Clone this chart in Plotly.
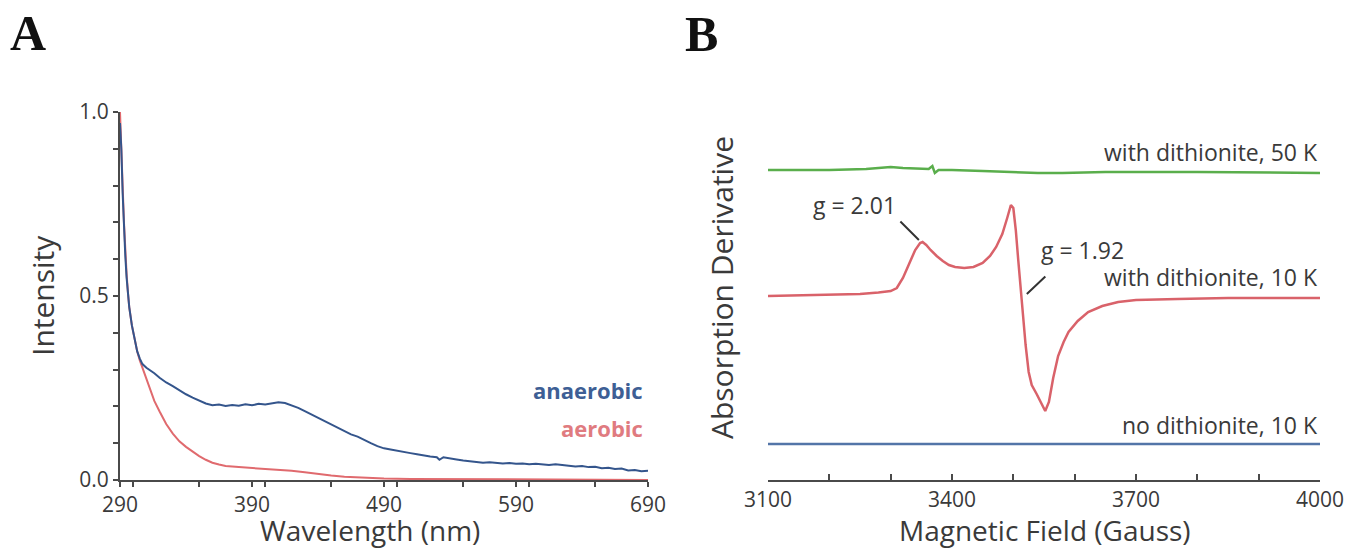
import plotly.graph_objects as go

# ---------------- Panel A data ----------------
wl_anaerobic = [290, 291, 292, 293, 294, 295, 296, 297, 299, 301, 303, 305, 307, 310, 313, 316, 320, 325,
                330, 335, 340, 345, 350, 355, 360, 365, 370, 375, 380, 385, 390, 395, 400, 405, 410, 415,
                420, 425, 430, 435, 440, 445, 450, 455, 460, 465, 470, 475, 480, 485, 490, 495, 500, 505,
                510, 515, 520, 525, 530, 532, 535, 540, 545, 550, 555, 560, 565, 570, 575, 580, 585, 590,
                595, 600, 605, 610, 615, 620, 625, 630, 635, 640, 645, 650, 655, 660, 665, 670, 675, 680,
                685, 690]
int_anaerobic = [0.97, 0.90, 0.78, 0.68, 0.61, 0.55, 0.51, 0.47, 0.42, 0.38, 0.35, 0.33, 0.315, 0.305, 0.298,
                 0.29, 0.278, 0.265, 0.255, 0.243, 0.233, 0.224, 0.215, 0.208, 0.203, 0.205, 0.201, 0.204,
                 0.202, 0.206, 0.203, 0.207, 0.205, 0.209, 0.211, 0.209, 0.203, 0.196, 0.187, 0.178, 0.168,
                 0.160, 0.150, 0.141, 0.133, 0.124, 0.118, 0.108, 0.100, 0.092, 0.086, 0.083, 0.079, 0.076,
                 0.073, 0.070, 0.066, 0.064, 0.062, 0.055, 0.062, 0.058, 0.056, 0.053, 0.051, 0.049, 0.047,
                 0.048, 0.046, 0.045, 0.046, 0.044, 0.045, 0.043, 0.044, 0.042, 0.041, 0.043, 0.040, 0.039,
                 0.037, 0.038, 0.035, 0.036, 0.032, 0.033, 0.030, 0.031, 0.026, 0.027, 0.024, 0.025]

wl_aerobic = [290, 291, 292, 293, 294, 295, 296, 297, 299, 301, 303, 305, 307, 310, 313, 316, 320, 325, 330,
              335, 340, 345, 350, 355, 360, 365, 370, 380, 390, 400, 410, 420, 430, 440, 450, 460, 470, 480,
              490, 510, 550, 600, 690]
int_aerobic = [1.0, 0.92, 0.80, 0.70, 0.62, 0.56, 0.51, 0.47, 0.42, 0.38, 0.35, 0.325, 0.305, 0.275, 0.246,
               0.215, 0.186, 0.152, 0.126, 0.105, 0.090, 0.077, 0.065, 0.055, 0.047, 0.042, 0.038, 0.035,
               0.033, 0.031, 0.028, 0.025, 0.021, 0.016, 0.012, 0.009, 0.007, 0.005, 0.004, 0.003, 0.002,
               0.001, 0.0]

# ---------------- Panel B data ----------------
field_red = [3100, 3150, 3200, 3250, 3280, 3300, 3310, 3320, 3330, 3340, 3348, 3352, 3358, 3365, 3375, 3385,
             3395, 3405, 3420, 3435, 3450, 3462, 3472, 3482, 3490, 3496, 3500, 3504, 3508, 3512, 3516, 3520,
             3525, 3530, 3538, 3546, 3552, 3558, 3565, 3573, 3582, 3590, 3605, 3622, 3645, 3671, 3700, 3768,
             3850, 4000]
deriv_red = [1.84, 1.845, 1.85, 1.86, 1.875, 1.89, 1.92, 2.02, 2.16, 2.30, 2.37, 2.38, 2.35, 2.30, 2.24, 2.19,
             2.15, 2.13, 2.12, 2.13, 2.17, 2.24, 2.33, 2.46, 2.62, 2.75, 2.72, 2.50, 2.20, 1.90, 1.60, 1.35,
             1.08, 0.95, 0.86, 0.76, 0.69, 0.78, 1.02, 1.24, 1.38, 1.48, 1.59, 1.68, 1.74, 1.78, 1.80, 1.81,
             1.82, 1.82]

field_green = [3100, 3200, 3260, 3300, 3320, 3345, 3362, 3368, 3372, 3378, 3400, 3450, 3500, 3540, 3580, 3650,
               3800, 4000]
deriv_green = [3.10, 3.10, 3.11, 3.13, 3.12, 3.11, 3.11, 3.14, 3.07, 3.10, 3.10, 3.09, 3.08, 3.07, 3.07, 3.08,
               3.08, 3.07]

field_blue = [3100, 4000]
deriv_blue = [0.36, 0.36]

series_b_labels = ["with dithionite, 50 K", "with dithionite, 10 K", "no dithionite, 10 K"]
series_b_label_y = [3.28, 2.03, 0.55]
g_labels = ["g = 2.01", "g = 1.92"]
g_field = [3346, 3522]
g_deriv = [2.40, 1.86]

# The page body has an 8 px margin, so the figure starts 8 px in from the window's top-left corner.
OFF = 8
W, H = 1353 - 2 * OFF, 557 - 2 * OFF
def px(x):
    return (x - OFF) / W
def py(y):
    return 1 - (y - OFF) / H

TXT = "#3a3a3a"
AX = "#4a4a4a"
FONT = "Open Sans"

fig = go.Figure()
fig.add_trace(go.Scatter(x=wl_aerobic, y=int_aerobic, mode="lines", line=dict(color="#E06A6E", width=2),
                         xaxis="x", yaxis="y", name="aerobic"))
fig.add_trace(go.Scatter(x=wl_anaerobic, y=int_anaerobic, mode="lines", line=dict(color="#34558C", width=2),
                         xaxis="x", yaxis="y", name="anaerobic"))
fig.add_trace(go.Scatter(x=field_green, y=deriv_green, mode="lines", line=dict(color="#5AAE4C", width=2.5),
                         xaxis="x2", yaxis="y2"))
fig.add_trace(go.Scatter(x=field_red, y=deriv_red, mode="lines", line=dict(color="#D9626A", width=2.5),
                         xaxis="x2", yaxis="y2"))
fig.add_trace(go.Scatter(x=field_blue, y=deriv_blue, mode="lines", line=dict(color="#5375A8", width=2.5),
                         xaxis="x2", yaxis="y2"))

tickfont = dict(family=FONT, size=21, color=TXT)

annotations = []
# panel letters
annotations.append(dict(text="<b>A</b>", x=px(28), y=py(33), xref="paper", yref="paper", showarrow=False,
                        xanchor="center", yanchor="middle", font=dict(family="Liberation Serif", size=50, color="#111")))
annotations.append(dict(text="<b>B</b>", x=px(701), y=py(34), xref="paper", yref="paper", showarrow=False,
                        xanchor="center", yanchor="middle", font=dict(family="Liberation Serif", size=50, color="#111")))
# axis titles
annotations.append(dict(text="Intensity", x=px(42), y=py(296), xref="paper", yref="paper", showarrow=False,
                        textangle=-90, xanchor="center", yanchor="middle", font=dict(family=FONT, size=30, color=TXT)))
annotations.append(dict(text="Wavelength (nm)", x=px(370), y=py(530), xref="paper", yref="paper", showarrow=False,
                        xanchor="center", yanchor="middle", font=dict(family=FONT, size=28, color=TXT)))
annotations.append(dict(text="Absorption Derivative", x=px(721), y=py(288), xref="paper", yref="paper",
                        showarrow=False, textangle=-90, xanchor="center", yanchor="middle",
                        font=dict(family=FONT, size=30, color=TXT)))
annotations.append(dict(text="Magnetic Field (Gauss)", x=px(1045), y=py(530), xref="paper", yref="paper",
                        showarrow=False, xanchor="center", yanchor="middle", font=dict(family=FONT, size=28, color=TXT)))
# panel A legend labels
annotations.append(dict(text="<b>anaerobic</b>", x=688, y=0.245, xref="x", yref="y", showarrow=False,
                        xanchor="right", yanchor="middle", font=dict(family=FONT, size=22, color="#3E5F95")))
annotations.append(dict(text="<b>aerobic</b>", x=688, y=0.142, xref="x", yref="y", showarrow=False,
                        xanchor="right", yanchor="middle", font=dict(family=FONT, size=22, color="#E07B80")))
# panel B series labels
for lab, yy in zip(series_b_labels, series_b_label_y):
    annotations.append(dict(text=lab, x=4000, y=yy, xref="x2", yref="y2", showarrow=False, xanchor="right",
                            yanchor="middle", font=dict(family=FONT, size=23, color=TXT)))
# g-value markers
g_arrow_off = [(-20, -20), (20, -19)]
g_text_off = [(-64, 35), (56, 44)]
for lab, gx, gy, (ax, ay), (tx, ty) in zip(g_labels, g_field, g_deriv, g_arrow_off, g_text_off):
    annotations.append(dict(text="", x=gx, y=gy, xref="x2", yref="y2", showarrow=True, arrowhead=0,
                            arrowwidth=2, arrowcolor="#333", ax=ax, ay=ay, standoff=0, startstandoff=0))
    annotations.append(dict(text=lab, x=gx, y=gy, xref="x2", yref="y2", showarrow=False, xshift=tx, yshift=ty,
                            xanchor="center", yanchor="middle", font=dict(family=FONT, size=23, color=TXT)))

fig.update_layout(
    width=W, height=H,
    margin=dict(l=0, r=0, t=0, b=0, autoexpand=False),
    paper_bgcolor="white", plot_bgcolor="white",
    showlegend=False,
    xaxis=dict(domain=[px(120), px(648)], range=[290, 690], anchor="y", automargin=False,
               showline=True, linecolor=AX, linewidth=2, showgrid=False, zeroline=False,
               tick0=290, dtick=100, ticks="outside", ticklen=5, tickwidth=2, tickcolor=AX,
               minor=dict(dtick=50, ticks="outside", ticklen=5, tickwidth=2, tickcolor=AX, showgrid=False),
               tickfont=tickfont),
    yaxis=dict(domain=[py(480), py(112)], range=[0, 1], anchor="x", automargin=False,
               showline=True, linecolor=AX, linewidth=2, showgrid=False, zeroline=False,
               tick0=0, dtick=0.5, tickformat=".1f", ticks="outside", ticklen=5, tickwidth=2, tickcolor=AX,
               minor=dict(dtick=0.1, ticks="outside", ticklen=5, tickwidth=2, tickcolor=AX, showgrid=False),
               tickfont=tickfont),
    xaxis2=dict(domain=[px(768), px(1320)], range=[3100, 4000], anchor="y2", automargin=False,
                showline=True, linecolor=AX, linewidth=2, showgrid=False, zeroline=False,
                tick0=3100, dtick=300, ticks="inside", ticklen=6, tickwidth=2, tickcolor=AX,
                minor=dict(dtick=100, ticks="inside", ticklen=6, tickwidth=2, tickcolor=AX, showgrid=False),
                tickfont=tickfont),
    yaxis2=dict(domain=[py(480), py(130)], range=[0, 3.5], anchor="x2", visible=False, automargin=False),
    annotations=annotations,
)

fig.write_html("out.html")
